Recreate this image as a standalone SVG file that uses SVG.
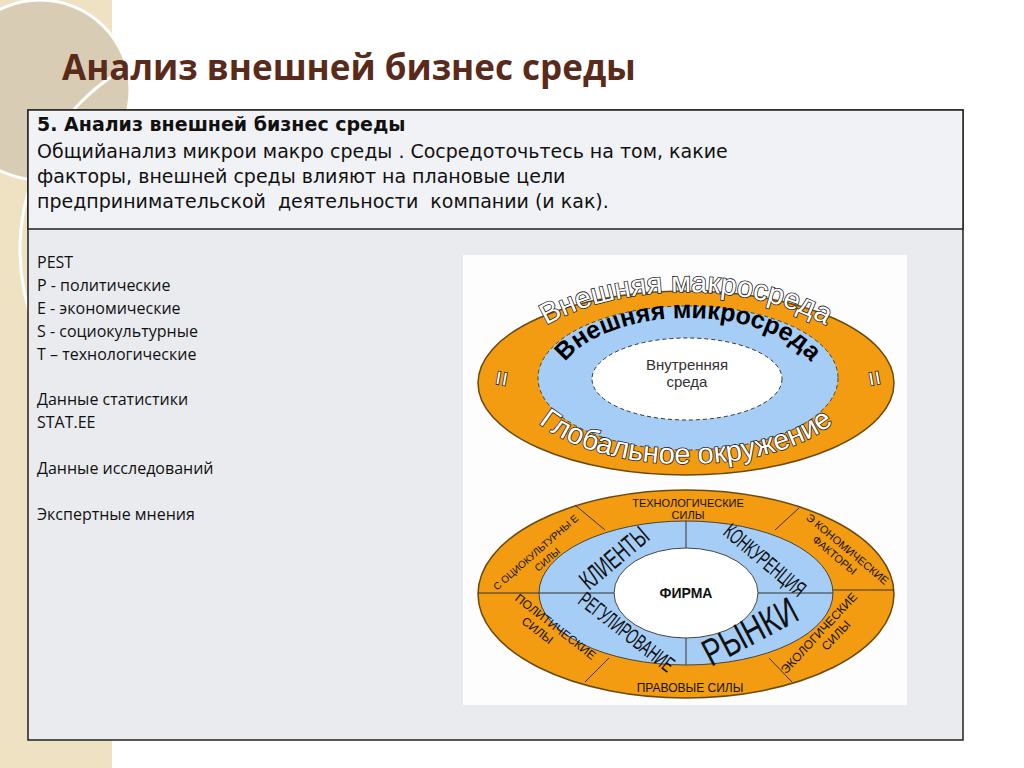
<svg xmlns="http://www.w3.org/2000/svg" width="1024" height="768" viewBox="0 0 1024 768">
<style>
.t{font-family:"DejaVu Sans",sans-serif;font-size:19px;fill:#111}
.b{font-family:"Open Sans",sans-serif;font-size:16px;fill:#111}
.a{font-family:"Liberation Sans",Arial,sans-serif}
.o{fill:#f39c12;stroke:#6a4a10;stroke-width:1.5}
.w{fill:#fff;stroke:#222;stroke-width:1.6px;paint-order:stroke}
.ln{stroke:#333;stroke-width:1;fill:none}
</style>
<defs>
<path id="pMac" d="M498,392 A188,100 0 0 1 874,392"/>
<path id="pGlob" d="M514,380 A172,84 0 0 0 858,380"/>
<path id="pMic" d="M556,388 A132,70 0 0 1 820,388"/>
</defs>
<rect width="1024" height="768" fill="#fff"/>
<g id="deco">
<rect x="0" y="0" width="112" height="768" fill="#eee2c2"/>
<circle cx="40" cy="90" r="90" fill="#d8cdb4" stroke="#fff" stroke-width="3"/>
<circle cx="230" cy="250" r="210" fill="none" stroke="#fff" stroke-width="3"/>
</g>
<text x="62" y="80" font-family="Open Sans,sans-serif" font-weight="bold" font-size="35" fill="#5a2a1a">Анализ внешней бизнес среды</text>
<g id="table">
<rect x="28" y="110" width="935" height="630" fill="#e9ebef" stroke="#222" stroke-width="1.5"/>
<rect x="28" y="110" width="935" height="119" fill="#f1f2f5" stroke="#222" stroke-width="1.5"/>
<text class="t" x="37" y="131" font-weight="bold">5. Анализ внешней бизнес среды</text>
<text class="t" x="37" y="158">Общийанализ микрои макро среды . Сосредоточьтесь на том, какие</text>
<text class="t" x="37" y="183">факторы, внешней среды влияют на плановые цели</text>
<text class="t" x="37" y="208" xml:space="preserve">предпринимательской  деятельности  компании (и как).</text>
<text class="b" x="37" y="268">PEST</text>
<text class="b" x="37" y="291">P - политические</text>
<text class="b" x="37" y="314">E - экономические</text>
<text class="b" x="37" y="337">S - социокультурные</text>
<text class="b" x="37" y="360">T – технологические</text>
<text class="b" x="37" y="405">Данные статистики</text>
<text class="b" x="37" y="428">STAT.EE</text>
<text class="b" x="37" y="474">Данные исследований</text>
<text class="b" x="37" y="520">Экспертные мнения</text>
</g>
<rect x="463" y="255" width="444" height="450" fill="#fdfdfd"/>
<g id="top-diagram">
<ellipse class="o" cx="686" cy="383" rx="208" ry="92"/>
<ellipse cx="688" cy="378" rx="150" ry="72" fill="#a6cdf5" stroke="#444" stroke-dasharray="4 3"/>
<ellipse cx="687" cy="379" rx="95" ry="41" fill="#fff" stroke="#333" stroke-dasharray="4 3"/>
<text class="a" font-size="15" text-anchor="middle" fill="#333"><tspan x="687" y="370">Внутренняя</tspan><tspan x="687" y="387">среда</tspan></text>
<text class="a w" font-size="29"><textPath href="#pMac" startOffset="50%" text-anchor="middle">Внешняя макросреда</textPath></text>
<text class="a w" font-size="29"><textPath href="#pGlob" startOffset="50%" text-anchor="middle">Глобальное окружение</textPath></text>
<text class="a" font-size="25" font-weight="bold" fill="#000"><textPath href="#pMic" startOffset="50%" text-anchor="middle">Внешняя микросреда</textPath></text>
<text class="a w" font-size="26" transform="translate(510,380) rotate(-80)" text-anchor="middle">=</text>
<text class="a w" font-size="26" transform="translate(866,380) rotate(80)" text-anchor="middle">=</text>
</g>
<g id="bottom-diagram">
<ellipse class="o" cx="686" cy="594" rx="208" ry="104"/>
<ellipse cx="686" cy="593" rx="147" ry="72" fill="#a6cdf5" stroke="#444"/>
<ellipse cx="686" cy="593" rx="72" ry="45" fill="#fff" stroke="#444"/>
<g class="ln">
<path d="M686,521V548M686,638V665M539,593H614M758,593H833M478,593H539M833,590H894M575,505L605,530M799,508L775,530M609,658L585,682M769,658L792,682"/>
</g>
<g fill="#111">
<text class="a" font-size="14" font-weight="bold" x="686" y="598" text-anchor="middle">ФИРМА</text>
<text class="a" font-size="27" text-anchor="middle" transform="translate(620,565) rotate(-40) scale(0.62,1)">КЛИЕНТЫ</text>
<text class="a" font-size="22" text-anchor="middle" transform="translate(760,566) rotate(40) scale(0.6,1)">КОНКУРЕНЦИЯ</text>
<text class="a" font-size="22" text-anchor="middle" transform="translate(622,638) rotate(38) scale(0.6,1)">РЕГУЛИРОВАНИЕ</text>
<text class="a" font-size="38" text-anchor="middle" transform="translate(756,643) rotate(-28) scale(0.75,1)">РЫНКИ</text>
<text class="a" font-size="11" text-anchor="middle"><tspan x="688" y="507">ТЕХНОЛОГИЧЕСКИЕ</tspan><tspan x="688" y="519">СИЛЫ</tspan></text>
<text class="a" font-size="10" text-anchor="middle" transform="translate(538,555) rotate(-41)"><tspan x="0" y="0">С ОЦИОКУЛЬТУРНЫ Е</tspan><tspan x="4" y="13">СИЛЫ</tspan></text>
<text class="a" font-size="11" text-anchor="middle" transform="translate(845,552) rotate(40)"><tspan x="0" y="0">Э КОНОМИЧЕСКИЕ</tspan><tspan x="-6" y="13">ФАКТОРЫ</tspan></text>
<text class="a" font-size="12" text-anchor="middle" transform="translate(553,630) rotate(38)"><tspan x="0" y="0">ПОЛИТИЧЕСКИЕ</tspan><tspan x="-12" y="14">СИЛЫ</tspan></text>
<text class="a" font-size="12" text-anchor="middle" transform="translate(822,636) rotate(-47)"><tspan x="0" y="0">ЭКОЛОГИЧЕСКИЕ</tspan><tspan x="10" y="14">СИЛЫ</tspan></text>
<text class="a" font-size="12" x="690" y="692" text-anchor="middle">ПРАВОВЫЕ СИЛЫ</text>
</g>
</g>
</svg>
